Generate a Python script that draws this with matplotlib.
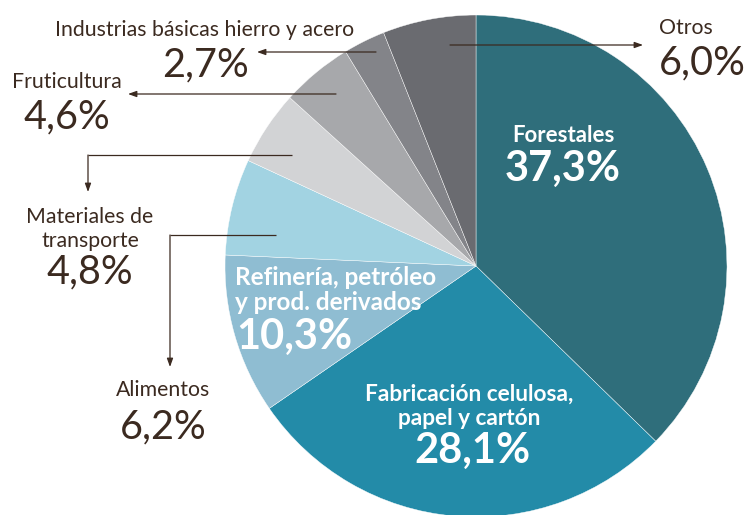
import matplotlib

matplotlib.use("Agg")
import matplotlib.pyplot as plt

# Participación por sector (%)
sectors = [
    "Forestales",
    "Fabricación celulosa,\npapel y cartón",
    "Refinería, petróleo\ny prod. derivados",
    "Alimentos",
    "Materiales de\ntransporte",
    "Fruticultura",
    "Industrias básicas hierro y acero",
    "Otros",
]
shares = [37.3, 28.1, 10.3, 6.2, 4.8, 4.6, 2.7, 6.0]
colors = ["#2f6e7b", "#238ba8", "#8fbdd2", "#a2d3e2", "#d2d3d5", "#a7a8ab", "#838489", "#6a6b70"]

W, H = 751, 515
BROWN = "#3b2a20"
FONT = "Lato"


def pct(v):
    return f"{v:.1f}".replace(".", ",") + "%"


fig = plt.figure(figsize=(W / 100, H / 100), dpi=100)
ax = fig.add_axes([0, 0, 1, 1])

cx, cy, r = 476, H - 266, 251
ax.pie(
    shares,
    colors=colors,
    startangle=90,
    counterclock=False,
    center=(cx, cy),
    radius=r,
    wedgeprops=dict(edgecolor="white", linewidth=0.3),
    frame=True,
)
ax.set_xlim(0, W)
ax.set_ylim(0, H)
ax.set_aspect("equal")
ax.axis("off")


def Y(py):
    return H - py


# inside labels (white, bold)
ax.text(563, Y(135), sectors[0], color="white", fontsize=16, fontweight="bold",
        family=FONT, ha="center", va="center")
ax.text(563, Y(169), pct(shares[0]), color="white", fontsize=30, fontweight="bold",
        family=FONT, ha="center", va="center")

ax.text(469, Y(406), sectors[1], color="white", fontsize=16.3, fontweight="bold",
        family=FONT, ha="center", va="center", linespacing=1.2)
ax.text(472, Y(451), pct(shares[1]), color="white", fontsize=30, fontweight="bold",
        family=FONT, ha="center", va="center")

ax.text(235, Y(290), sectors[2], color="white", fontsize=17.5, fontweight="bold",
        family=FONT, ha="left", va="center", linespacing=1.15)
ax.text(236, Y(337), pct(shares[2]), color="white", fontsize=30, fontweight="bold",
        family=FONT, ha="left", va="center")


# outside labels (brown)
def outside(x, y_name, y_val, name, val, ha="center"):
    ax.text(x, Y(y_name), name, color=BROWN, fontsize=15.3, family=FONT,
            ha=ha, va="center", linespacing=1.2)
    ax.text(x, Y(y_val), pct(val), color=BROWN, fontsize=28.5, family=FONT,
            ha=ha, va="center")


outside(205, 30, 65, sectors[6], shares[6])
outside(67, 82, 117, sectors[5], shares[5])
outside(90, 229, 272, sectors[4], shares[4])
outside(163, 390, 427, sectors[3], shares[3])
outside(659, 28, 63, sectors[7], shares[7], ha="left")

arrow = dict(arrowstyle="-|>,head_length=0.5,head_width=0.18", color=BROWN, lw=0.9,
             shrinkA=0, shrinkB=0)


def leader(points):
    xs = [p[0] for p in points]
    ys = [Y(p[1]) for p in points]
    ax.plot(xs[:-1], ys[:-1], color=BROWN, lw=0.9, solid_capstyle="butt")
    ax.annotate("", xy=(xs[-1], ys[-1]), xytext=(xs[-2], ys[-2]), arrowprops=arrow)


leader([(376, 52), (257, 52)])
leader([(336, 94), (128, 94)])
leader([(292, 155), (88, 155), (88, 192)])
leader([(276, 235), (170, 235), (170, 367)])
leader([(450, 45), (643, 45)])

fig.savefig("out.png", dpi=100)
